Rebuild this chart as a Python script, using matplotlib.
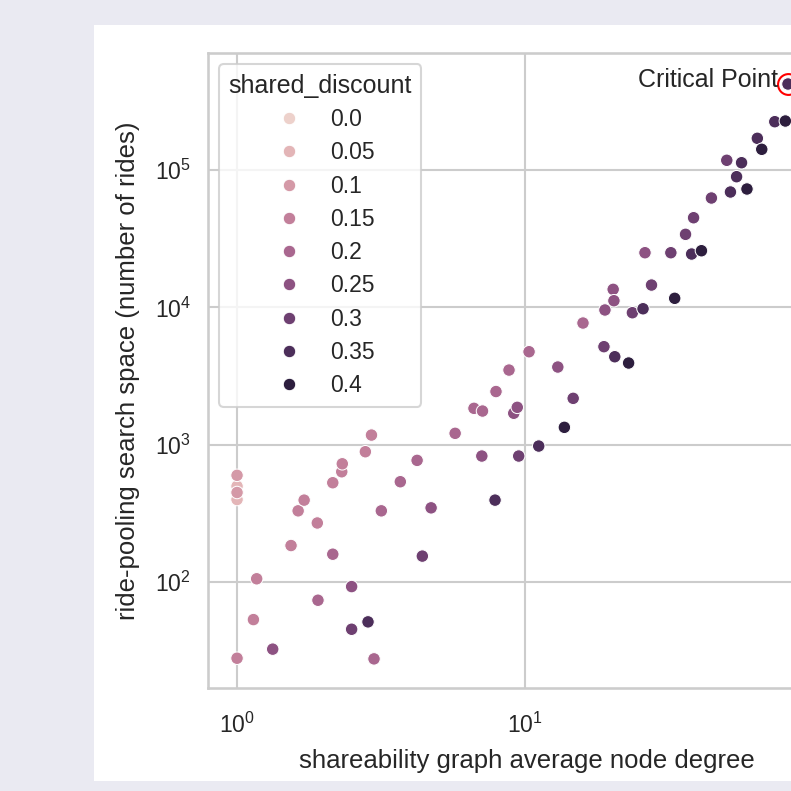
import matplotlib
matplotlib.use("Agg")
import matplotlib.pyplot as plt
from matplotlib.patches import Rectangle
import pandas as pd
import seaborn as sns

# values, grouped by shared_discount
discount_levels = [0.0, 0.05, 0.1, 0.15, 0.2, 0.25, 0.3, 0.35, 0.4]

degree = {
    0.0: [1.0],
    0.05: [1.0, 1.0],
    0.1: [1.0, 1.0],
    0.15: [1.0, 1.14, 1.17, 1.54, 1.63, 1.71, 1.90, 2.15, 2.31, 2.32, 2.79, 2.93],
    0.2: [1.91, 2.15, 2.99, 3.17, 3.69, 4.22, 5.72, 6.65, 7.12, 7.93, 8.80, 10.33, 15.9],
    0.25: [1.33, 2.50, 4.72, 7.08, 9.14, 9.40, 13.0, 18.95, 20.24, 20.36, 26.1],
    0.3: [2.50, 4.40, 9.51, 14.7, 18.8, 23.6, 27.5, 32.1, 36.1, 38.5, 44.4, 50.2],
    0.35: [2.85, 7.87, 11.16, 20.5, 25.7, 37.9, 51.7, 54.3, 56.5, 64.1, 73.7, 81.9],
    0.4: [13.7, 22.9, 33.1, 41.0, 59.0, 66.4, 80.2],
}
search_space = {
    0.0: [450],
    0.05: [500, 400],
    0.1: [600, 450],
    0.15: [28, 53.5, 106, 185, 331, 396, 270, 530, 637, 728, 891, 1178],
    0.2: [74, 160, 27.7, 331, 539, 771, 1213, 1844, 1762, 2443, 3501, 4760, 7700],
    0.25: [32.6, 93, 348, 829, 1698, 1875, 3684, 9580, 13540, 11190, 25010],
    0.3: [45.5, 155, 829, 2180, 5180, 9150, 14550, 25010, 34040, 44950, 62560, 117700],
    0.35: [51.5, 396, 980, 4377, 9780, 24470, 69180, 89400, 113000, 170100, 224700, 422600],
    0.4: [1341, 3940, 11650, 25860, 72750, 141500, 227300],
}

critical_degree = 81.9
critical_space = 422600

rows = []
for d in discount_levels:
    for x, y in zip(degree[d], search_space[d]):
        rows.append({"degree": x, "space": y, "shared_discount": d})
df = pd.DataFrame(rows)

sns.set_theme(style="whitegrid", context="talk")
plt.rcParams["font.family"] = ["Liberation Sans", "DejaVu Sans"]
plt.rcParams["xtick.major.pad"] = 8.5

fig = plt.figure(figsize=(7.91, 7.91), dpi=100, facecolor="#EAEAF2")
# white card behind the plot
fig.patches.append(Rectangle((94 / 791, 10 / 791), 1.0, 756 / 791,
                             transform=fig.transFigure, facecolor="white",
                             edgecolor="none", zorder=-10))
ax = fig.add_axes([0.263, 0.1302, 0.8066, 0.8028])

sns.scatterplot(data=df, x="degree", y="space", hue="shared_discount",
                legend="full", ax=ax)
ax.set_xscale("log")
ax.set_yscale("log")
ax.set_xticks([1, 10])
ax.set_xlim(0.793, 130.3)
ax.set_ylim(17.0, 7.105e5)

ax.plot(critical_degree, critical_space, "o", mfc="none", mec="red",
        ms=15, mew=1.5)
ax.annotate("Critical Point", (critical_degree, critical_space),
            xytext=(-7, -2.2), textcoords="offset points",
            ha="right", va="baseline", color=".15")

ax.set_xlabel("shareability graph average node degree", labelpad=8,
              fontsize=18.5)
ax.set_ylabel("ride-pooling search space (number of rides)", labelpad=10.5,
              fontsize=18.5)
ax.legend(title="shared_discount", loc="upper left", labelspacing=0.45)

fig.savefig("out.png", dpi=100, facecolor=fig.get_facecolor())
